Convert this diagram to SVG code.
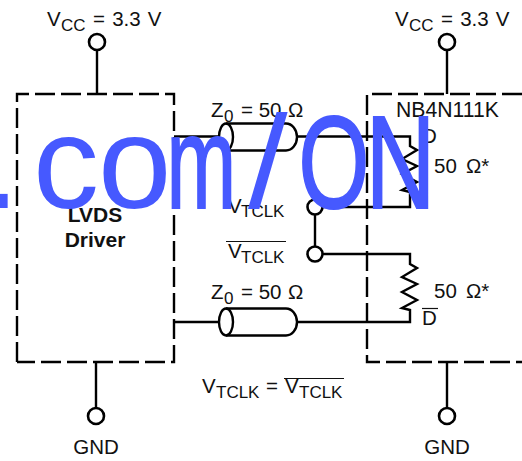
<svg xmlns="http://www.w3.org/2000/svg" width="522" height="461" viewBox="0 0 522 461">
<style>
.w{fill:none;stroke:#000;stroke-width:2.4}
.b{fill:none;stroke:#000;stroke-width:2.4;stroke-dasharray:20 6}
.p{fill:#fff;stroke:#000;stroke-width:2.6}
text{font-family:"Liberation Sans",Arial,sans-serif;font-size:20.500px;fill:#111}
.s{font-size:17px}
.d{font-weight:bold;font-size:21px;text-anchor:middle}
.o{stroke:#111;stroke-width:1.2;fill:none}
.v{word-spacing:1.500px}
.r{word-spacing:3.500px}
#watermark text{font-size:132px;fill:#4659ff}
#watermark .t{stroke:#4659ff;stroke-width:2}
</style>
<rect width="522" height="461" fill="#fff"/>
<g id="connectors">
<path class="w" d="M97 50V94M447 50V94M96 362V408M447 362V408"/>
<path class="w" d="M174 136.500H220M297 136.500H410V146L417 150L402 159L417 166L402 174L417 182L402 190L410 192V207H322M315 214V247M322 254H410V264L417 268L402 277L417 284L402 292L417 300L402 308L410 310V322H297M174 322H220"/>
</g>
<g id="lvds-driver">
<path class="b" d="M17 362V94H174V362H17"/>
<text class="d" x="95" y="222">LVDS</text>
<text class="d" x="95" y="247">Driver</text>
</g>
<g id="nb4n111k">
<path class="b" d="M522 94H367V362H522"/>
<text x="396" y="117" style="font-size:21.200px">NB4N111K</text>
<text x="422" y="143">D</text>
<text x="422" y="325">D</text>
<path class="o" d="M422 308.500H438"/>
<text class="r" x="434" y="173">50 Ω*</text>
<text class="r" x="434" y="298">50 Ω*</text>
</g>
<g id="vcc-left"><circle class="p" cx="97" cy="42" r="8"/><text x="47" y="26">V<tspan x="61" dy="4.500" class="s">CC</tspan><tspan class="v" x="93" dy="-4.500">= 3.3 V</tspan></text></g>
<g id="vcc-right"><circle class="p" cx="447" cy="42" r="8"/><text x="395" y="26">V<tspan x="409" dy="4.500" class="s">CC</tspan><tspan class="v" x="441" dy="-4.500">= 3.3 V</tspan></text></g>
<g id="gnd-left"><circle class="p" cx="96" cy="416" r="8"/><text x="96" y="454" text-anchor="middle">GND</text></g>
<g id="gnd-right"><circle class="p" cx="447" cy="416" r="8"/><text x="447" y="454" text-anchor="middle">GND</text></g>
<g id="line-top">
<path class="w" d="M226 123.500H286A11 13.500 0 0 1 286 150.500H226"/>
<path class="w" d="M226 123.500A7 13.500 0 0 0 226 150.500A7 13.500 0 0 0 226 123.500Z"/>
<text x="211" y="117">Z<tspan x="224" dy="4.500" class="s">0</tspan><tspan x="241" dy="-4.500">= 50</tspan><tspan x="288">Ω</tspan></text>
</g>
<g id="line-bottom">
<path class="w" d="M226 308.500H286A11 13.500 0 0 1 286 335.500H226"/>
<path class="w" d="M226 308.500A7 13.500 0 0 0 226 335.500A7 13.500 0 0 0 226 308.500Z"/>
<text x="211" y="299">Z<tspan x="224" dy="4.500" class="s">0</tspan><tspan x="241" dy="-4.500">= 50</tspan><tspan x="288">Ω</tspan></text>
</g>
<g id="vtclk"><circle class="p" cx="315" cy="207" r="7.500"/><text x="228" y="212.500">V<tspan x="241" dy="4.500" class="s">TCLK</tspan></text></g>
<g id="vtclk-bar"><circle class="p" cx="315" cy="254" r="7.500"/><text x="228" y="258">V<tspan x="241" dy="4.500" class="s">TCLK</tspan></text><path class="o" d="M226 241.500H286"/></g>
<g id="equation">
<text x="202" y="393">V<tspan x="216" dy="4.500" class="s">TCLK</tspan><tspan x="266" dy="-4.500">=</tspan><tspan x="285">V</tspan><tspan x="299" dy="4.500" class="s">TCLK</tspan></text>
<path class="o" d="M284 378.500H344"/>
</g>
<g id="watermark">
<text x="-17" y="208">.</text>
<text x="33" y="208">c</text>
<text x="98" y="208">o</text>
<text class="t" transform="translate(166.500 208) scale(.633 1)">m</text>
<text transform="translate(248 208) scale(1.080 1)">/</text>
<text class="t" transform="translate(298.400 208) scale(.69 1)">O</text>
<text class="t" transform="translate(365.700 208) scale(.73 1)">N</text>
</g>
</svg>
